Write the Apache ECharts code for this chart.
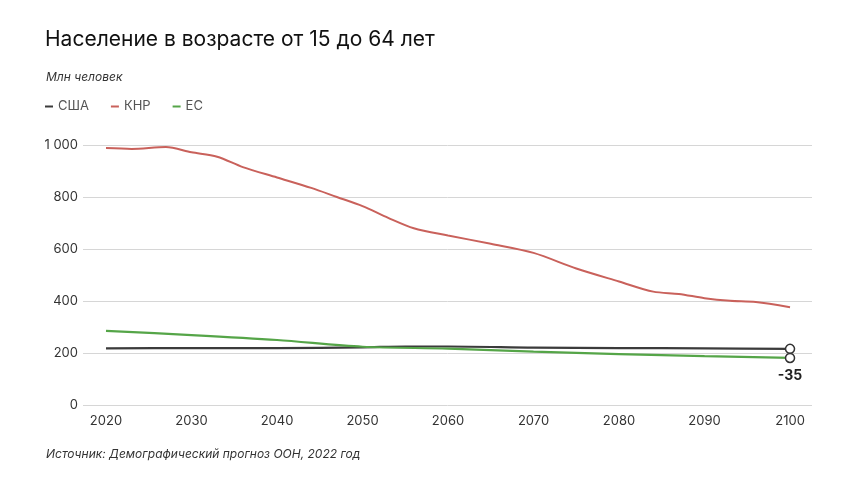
<!DOCTYPE html>
<html><head><meta charset="utf-8">
<script src="https://cdn.jsdelivr.net/npm/echarts@6/dist/echarts.min.js"></script>
<style>html,body{margin:0;padding:0;background:#fff}#c{width:860px;height:484px}</style>
</head><body><div id="c"></div>
<script>
const titleText = 'Население в возрасте от 15 до 64 лет';
const unitText = 'Млн человек';
const sourceText = 'Источник: Демографический прогноз ООН, 2022 год';
const seriesNames = ['США', 'КНР', 'ЕС'];
const endLabel = '-35';
const yTicks = [0, 200, 400, 600, 800, 1000];
const xTicks = [2020, 2030, 2040, 2050, 2060, 2070, 2080, 2090, 2100];

const usYears = [2020, 2030, 2040, 2050, 2055, 2060, 2070, 2080, 2090, 2100];
const usVals  = [218, 219, 219, 222, 225, 225, 221, 219, 218, 216];

const cnYears = [2020, 2023, 2027, 2030, 2033, 2036, 2040, 2044, 2047, 2050, 2053, 2056, 2060, 2065, 2070, 2075, 2080, 2084, 2087, 2090, 2093, 2096, 2100];
const cnVals  = [988, 985, 992, 972, 955, 915, 875, 835, 800, 765, 720, 680, 652, 620, 585, 525, 475, 436, 427, 411, 401, 396, 376];

const euYears = [2020, 2030, 2040, 2050, 2060, 2070, 2080, 2090, 2100];
const euVals  = [285, 269, 250, 224, 217, 205, 196, 188, 181];

const colors = ['#3b3b3b', '#c9615b', '#55a548'];
const font = 'Inter';

function pairs(xs, ys){ return xs.map((x,i)=>[x, ys[i]]); }

const chart = echarts.init(document.getElementById('c'));
const endSym = (len) => (v, p) => p.dataIndex === len - 1 ? 9 : 0;

chart.setOption({
  animation: false,
  textStyle: {fontFamily: font},
  title: [
    {text: titleText, left: 40, top: 24, textStyle: {fontFamily: font, fontSize: 21, fontWeight: 'normal', color: '#111'}},
    {text: unitText, left: 41, top: 66, textStyle: {fontFamily: font, fontSize: 12, fontStyle: 'italic', fontWeight: 'normal', color: '#333'}},
    {text: sourceText, left: 41, top: 443, textStyle: {fontFamily: font, fontSize: 12, fontStyle: 'italic', fontWeight: 'normal', color: '#333'}}
  ],
  legend: {
    left: 40, top: 95, itemWidth: 8, itemHeight: 2, itemGap: 22,
    icon: 'rect',
    textStyle: {fontFamily: font, fontSize: 13, color: '#555'},
    data: seriesNames.map((n, i) => ({name: n, itemStyle: {color: colors[i], borderWidth: 0}}))
  },
  grid: {left: 83, right: 48, top: 145, bottom: 79, containLabel: false},
  xAxis: {
    type: 'value', min: 2017.31, max: 2102.57,
    axisLine: {show: false}, axisTick: {show: false}, splitLine: {show: false},
    axisLabel: {customValues: xTicks, formatter: v => String(v), fontFamily: font, fontSize: 13, color: '#333', margin: 10}
  },
  yAxis: {
    type: 'value', min: yTicks[0], max: yTicks[yTicks.length-1], interval: 200,
    axisLine: {show: false}, axisTick: {show: false},
    splitLine: {lineStyle: {color: '#d6d6d6', width: 1}},
    axisLabel: {fontFamily: font, fontSize: 13, color: '#333', margin: 5,
      formatter: v => v >= 1000 ? String(v).replace(/\B(?=(\d{3})+(?!\d))/g, ' ') : String(v)}
  },
  series: [
    {name: seriesNames[0], type: 'line', smooth: 0.3, data: pairs(usYears, usVals), z: 3,
     showSymbol: true, showAllSymbol: true, symbol: 'circle', symbolSize: endSym(usYears.length),
     itemStyle: {color: '#fff', borderColor: '#333', borderWidth: 1.5},
     lineStyle: {color: colors[0], width: 2.2}, color: colors[0]},
    {name: seriesNames[1], type: 'line', smooth: 0.3, data: pairs(cnYears, cnVals), z: 2,
     showSymbol: false, lineStyle: {color: colors[1], width: 2}, color: colors[1]},
    {name: seriesNames[2], type: 'line', smooth: 0.3, data: pairs(euYears, euVals), z: 4,
     showSymbol: true, showAllSymbol: true, symbol: 'circle', symbolSize: endSym(euYears.length),
     itemStyle: {color: '#fff', borderColor: '#333', borderWidth: 1.5},
     label: {show: true, position: 'bottom', distance: 6,
       formatter: p => p.dataIndex === euYears.length - 1 ? endLabel : '',
       fontFamily: font, fontSize: 14, fontWeight: 'bold', color: '#222'},
     lineStyle: {color: colors[2], width: 2.2}, color: colors[2]}
  ]
});
</script>
</body></html>
